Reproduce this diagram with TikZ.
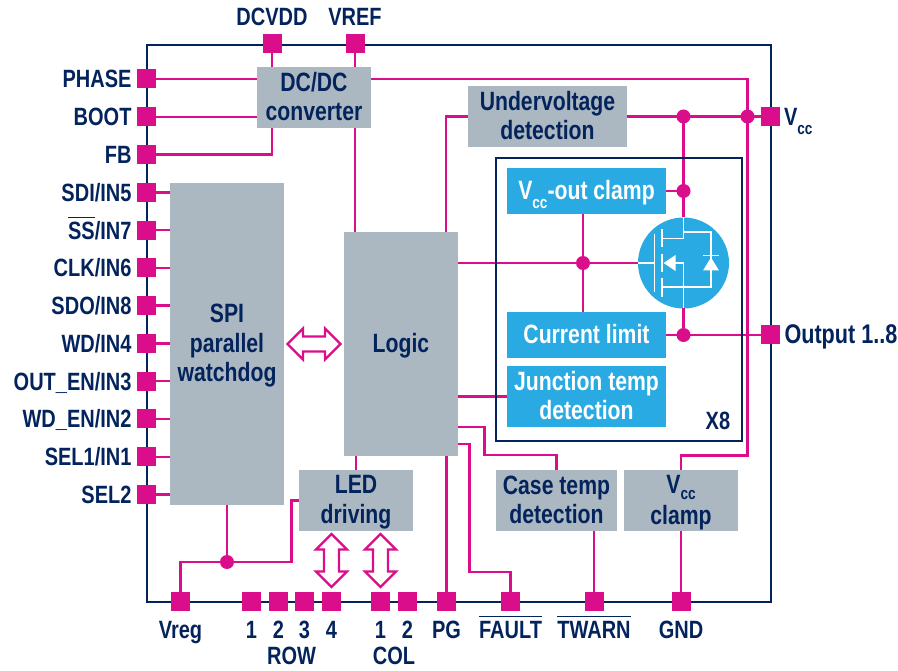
\documentclass[tikz,border=0pt]{standalone}
\usepackage{fontspec}
\setmainfont[FakeStretch=0.8]{Liberation Sans}
\usepackage{xcolor}
\definecolor{navy}{RGB}{3, 35, 92}
\definecolor{pink}{RGB}{218, 13, 138}
\definecolor{slate}{RGB}{172, 184, 193}
\definecolor{sky}{RGB}{41, 170, 226}
\usetikzlibrary{arrows.meta, positioning, calc}
\newcommand{\vccsub}[1][9pt]{V\raisebox{-#1}[0pt][0pt]{\fontsize{17}{17}\selectfont cc}}
\newcommand{\barred}[1]{\vbox{\hrule height 1pt \kern 4pt \hbox{#1}}}
\newcommand{\linkarrow}[2]{\draw[linkline, shift={(#1)}, rotate=#2]
  (-26.5,0) -- (-11,-15.5) -- (-11,-7.5) -- (11,-7.5) -- (11,-15.5) -- (26.5,0)
  -- (11,15.5) -- (11,7.5) -- (-11,7.5) -- (-11,15.5) -- cycle;}

\begin{document}
\begin{tikzpicture}[x=1pt, y=-1pt,
  slatebox/.style={fill=slate, text=navy, inner sep=0pt, outer sep=0pt,
    minimum width=114pt, minimum height=61pt, text depth=2pt,
    align=center, font=\fontsize{26.5}{29.5}\selectfont\bfseries},
  skybox/.style={fill=sky, text=white, inner sep=0pt, outer sep=0pt,
    minimum width=159pt, minimum height=46pt, text depth=2.5pt,
    align=center, font=\fontsize{26.5}{29}\selectfont\bfseries},
  padbox/.style={fill=pink, inner sep=0pt, outer sep=0pt, minimum size=19pt},
  padlabel/.style={text=navy, inner sep=0pt, outer sep=0pt,
    text height=18pt, text depth=0pt, font=\fontsize{25}{29}\selectfont\bfseries},
  joint/.style={circle, fill=pink, inner sep=0pt, outer sep=0pt, minimum size=14pt},
  linkline/.style={draw=pink, fill=white, line width=2.4pt},
  wire/.style={draw=pink, line width=2.4pt},
  fetline/.style={draw=white, line width=1.8pt}]

  \useasboundingbox (0,0) rectangle (898,671);

  \node[draw=navy, line width=2.2pt, inner sep=0pt, minimum width=624pt,
    minimum height=557pt, anchor=north west] (chip) at (146,44) {};

  % left side
  \node[padbox] (phase) at (146,79) {};
  \node[padbox, below=18.77pt of phase] (boot) {};
  \node[padbox, below=18.77pt of boot] (fb) {};
  \node[padbox, below=18.77pt of fb] (sdi) {};
  \node[padbox, below=18.77pt of sdi] (ss) {};
  \node[padbox, below=18.77pt of ss] (clk) {};
  \node[padbox, below=18.77pt of clk] (sdo) {};
  \node[padbox, below=18.77pt of sdo] (wd) {};
  \node[padbox, below=18.77pt of wd] (outen) {};
  \node[padbox, below=18.77pt of outen] (wden) {};
  \node[padbox, below=18.77pt of wden] (selone) {};
  \node[padbox, below=18.77pt of selone] (seltwo) {};

  \node[padlabel, left=5pt of phase] (phaselab) {PHASE};
  \node[padlabel, left=5pt of boot] (bootlab) {BOOT};
  \node[padlabel, left=5pt of fb] (fblab) {FB};
  \node[padlabel, left=5pt of sdi] (sdilab) {SDI/IN5};
  \node[padlabel, left=5pt of ss] (sslab) {\barred{SS}/IN7};
  \node[padlabel, left=5pt of clk] (clklab) {CLK/IN6};
  \node[padlabel, left=5pt of sdo] (sdolab) {SDO/IN8};
  \node[padlabel, left=5pt of wd] (wdlab) {WD/IN4};
  \node[padlabel, left=5pt of outen] (outenlab) {OUT\_EN/IN3};
  \node[padlabel, left=5pt of wden] (wdenlab) {WD\_EN/IN2};
  \node[padlabel, left=5pt of selone] (selonelab) {SEL1/IN1};
  \node[padlabel, left=5pt of seltwo] (seltwolab) {SEL2};

  % top and right side
  \node[padbox] (dcvdd) at (272,44) {};
  \node[padbox] (vref) at (355,44) {};
  \node[padlabel, above=9pt of dcvdd] (dcvddlab) {DCVDD};
  \node[padlabel, above=9pt of vref] (vreflab) {VREF};
  \node[padbox] (vcc) at (770,116.5) {};
  \node[padbox] (output) at (770,335) {};
  \node[padlabel, right=4.5pt of vcc] (vcclab) {\vccsub};
  \node[padlabel, right=5pt of output, font=\fontsize{27}{29}\selectfont\bfseries] (outputlab) {Output 1..8};

  % bottom side
  \node[padbox] (vreg) at (180.5,601) {};
  \node[padbox, right=52pt of vreg] (rowone) {};
  \node[padbox, right=8pt of rowone] (rowtwo) {};
  \node[padbox, right=7pt of rowtwo] (rowthree) {};
  \node[padbox, right=8pt of rowthree] (rowfour) {};
  \node[padbox, right=30pt of rowfour] (colone) {};
  \node[padbox, right=8pt of colone] (coltwo) {};
  \node[padbox, right=20pt of coltwo] (pg) {};
  \node[padbox, right=45pt of pg] (fault) {};
  \node[padbox, right=64.5pt of fault] (twarn) {};
  \node[padbox, right=68pt of twarn] (gnd) {};

  \node[padlabel, below=9.5pt of vreg] (vreglab) {Vreg};
  \node[padlabel, below=9.5pt of rowone] (rowonelab) {1};
  \node[padlabel, below=9.5pt of rowtwo] (rowtwolab) {2};
  \node[padlabel, below=9.5pt of rowthree] (rowthreelab) {3};
  \node[padlabel, below=9.5pt of rowfour] (rowfourlab) {4};
  \node[padlabel, below=9.5pt of colone] (colonelab) {1};
  \node[padlabel, below=9.5pt of coltwo] (coltwolab) {2};
  \node[padlabel, below=9.5pt of pg] (pglab) {PG};
  \node[padlabel, below=9.5pt of fault] (faultlab) {\barred{FAULT}};
  \node[padlabel, below=9.5pt of twarn] (twarnlab) {\barred{TWARN}};
  \node[padlabel, below=9.5pt of gnd] (gndlab) {GND};
  \coordinate (rowmid) at ($(rowtwolab.south)!.5!(rowthreelab.south)$);
  \coordinate (colmid) at ($(colonelab.south)!.5!(coltwolab.south)$);
  \node[padlabel, below=8.6pt of rowmid] (rowlab) {ROW};
  \node[padlabel, below=8.6pt of colmid] (collab) {COL};

  % blocks
  \node[slatebox] (dcdc) at (314,97.5) {DC/DC\\converter};
  \node[slatebox, minimum height=322pt] (spi) at (227,344) {SPI\\parallel\\watchdog};
  \node[slatebox, minimum height=224pt, right=60pt of spi] (logic) {Logic};
  \node[slatebox, minimum width=159pt] (uvlo) at (547.5,116.5) {Undervoltage\\detection};
  \node[skybox] (clamp) at (586.5,191) {\vccsub{}-out clamp};
  \node[skybox, below=98pt of clamp] (limit) {Current limit};
  \node[skybox, minimum height=61pt, below=8pt of limit] (junc) {Junction temp\\detection};
  \node[slatebox] (led) at (356,500.5) {LED\\driving};
  \node[slatebox, minimum width=121pt] (casebox) at (556.5,500.5) {Case temp\\detection};
  \node[slatebox, right=7pt of casebox] (vclamp) {\vccsub[6pt]\\[1.5pt]clamp};
  \node[circle, fill=sky, inner sep=0pt, outer sep=0pt, minimum size=91pt] (fet) at (683.5,263) {};

  \node[joint] (dotvcc) at (683.5,116.5) {};
  \node[joint] (dotrail) at (747.5,116.5) {};
  \node[joint] (dotclamp) at (683.5,191) {};
  \node[joint] (dotout) at (683.5,335) {};
  \node[joint] (dotgate) at (583,263) {};
  \node[joint] (dotreg) at (227,562) {};

  % two way arrows
  \coordinate (spilink) at ($(spi.east)!.5!(logic.west)$);
  \coordinate (rowlink) at (331.5,560.5);
  \coordinate (collink) at (380.5,560.5);
  \linkarrow{spilink}{0}
  \linkarrow{rowlink}{90}
  \linkarrow{collink}{90}

  % connectors
  \draw[wire] (phase) -- (phase -| dcdc.west);
  \draw[wire] (boot) -- (boot -| dcdc.west);
  \draw[wire] (fb) -| (dcvdd |- dcdc.south);
  \draw[wire] (dcvdd) -- (dcvdd |- dcdc.north);
  \draw[wire] (vref) -- (vref |- dcdc.north);
  \draw[wire] (vref |- dcdc.south) -- (vref |- logic.north);
  \draw[wire] (sdi) -- (sdi -| spi.west);
  \draw[wire] (ss) -- (ss -| spi.west);
  \draw[wire] (clk) -- (clk -| spi.west);
  \draw[wire] (sdo) -- (sdo -| spi.west);
  \draw[wire] (wd) -- (wd -| spi.west);
  \draw[wire] (outen) -- (outen -| spi.west);
  \draw[wire] (wden) -- (wden -| spi.west);
  \draw[wire] (selone) -- (selone -| spi.west);
  \draw[wire] (seltwo) -- (seltwo -| spi.west);

  \coordinate (railend) at ($(vclamp.north)+(0,-14.5)$);
  \draw[wire] (phase -| dcdc.east) -| (dotrail.center) |- (railend) -- (vclamp.north);
  \draw[wire] (vcc) -- (uvlo);
  \coordinate (uvlodrop) at (446,232);
  \draw[wire] (uvlo.west) -| (uvlodrop);
  \draw[wire] (dotvcc) -- (fet.north);
  \draw[wire] (clamp.east) -- (dotclamp);
  \draw[wire] (fet.south) -- (dotout);
  \draw[wire] (limit.east) -- (output);
  \draw[wire] (logic.east |- fet) -- (fet.west);
  \draw[wire] (dotgate |- clamp.south) -- (dotgate |- limit.north);
  \draw[wire] (logic.east |- junc) -- (junc.west);

  \coordinate (casetap) at ($(logic.south east)+(0,-29.3)$);
  \coordinate (caseend) at ($(casebox.north)+(0,-15)$);
  \draw[wire] (casetap) -- ++(26.5,0) |- (caseend) -- (casebox.north);
  \coordinate (faulttap) at ($(logic.south east)+(0,-12)$);
  \coordinate (faultend) at ($(fault.north)+(0,-19.5)$);
  \draw[wire] (faulttap) -- ++(11.5,0) |- (faultend) -- (fault.north);
  \draw[wire] (twarn) -- (twarn |- casebox.south);
  \draw[wire] (gnd) -- (vclamp.south);
  \draw[wire] (pg) -- (pg |- logic.south);
  \draw[wire] (led.north) -- (led.north |- logic.south);
  \draw[wire] (spi.south) -- (dotreg);
  \draw[wire] (dotreg) -| (vreg.north);
  \coordinate (ledbend) at (291.5,500.5);
  \draw[wire] (dotreg) -| (ledbend) -- (led.west);

  % X8 frame over the wires
  \node[draw=navy, line width=2.2pt, inner sep=0pt, minimum width=246pt,
    minimum height=283pt, anchor=north west] (xframe) at (495,157) {};
  \node[padlabel, above left=13pt and 13pt of xframe.south east] (xlab) {X8};

  % transistor symbol
  \begin{scope}[shift={(fet.center)}]
    \draw[fetline] (-45.5,0) -- (-29,0);
    \draw[fetline] (-29,-29) -- (-29,29);
    \draw[fetline] (-21.5,-34) -- (-21.5,-16);
    \draw[fetline] (-21.5,-9) -- (-21.5,9);
    \draw[fetline] (-21.5,15.5) -- (-21.5,34);
    \draw[fetline] (-21.5,-24.5) -- (0,-24.5) -- (0,-45.5);
    \draw[fetline] (0,-31) -- (27.5,-31) -- (27.5,24) -- (0,24);
    \draw[fetline] (-21.5,24) -- (0,24);
    \draw[fetline] (0,45.5) -- (0,0) -- (-10,0);
    \draw[fetline] (19.5,-7.5) -- (35.5,-7.5);
    \fill[white] (27.5,-5.5) -- (35.5,7.5) -- (19.5,7.5) -- cycle;
    \fill[white] (-20,0) -- (-8,-8) -- (-8,8) -- cycle;
  \end{scope}

\end{tikzpicture}
\end{document}
